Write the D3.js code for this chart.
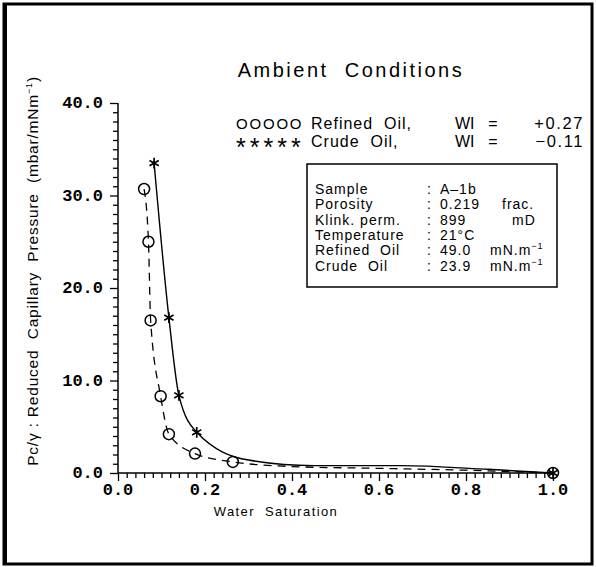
<!DOCTYPE html>
<html>
<head>
<meta charset="utf-8">
<script src="https://d3js.org/d3.v7.min.js"></script>
<style>
  body { margin: 0; background: #fff; }
  svg text { fill: #000; white-space: pre; }
  .tick-lbl { font: bold 17px "Liberation Mono", monospace; }
  .sans { font-family: "Liberation Sans", Arial, sans-serif; }
</style>
</head>
<body>
<svg id="chart" width="596" height="567"></svg>
<script>
// refined oil (circles, dashed line)
const refinedSw = [0.060, 0.070, 0.075, 0.098, 0.117, 0.177, 0.264, 0.40, 0.60, 0.80, 1.0];
const refinedPc = [30.7, 25.0, 16.5, 8.3, 4.2, 2.1, 1.2, 0.7, 0.5, 0.3, 0.0];
// crude oil (stars, solid line)
const crudeSw = [0.083, 0.117, 0.140, 0.181, 0.30, 0.45, 0.65, 0.85, 1.0];
const crudePc = [33.5, 16.8, 8.4, 4.4, 1.4, 0.8, 0.8, 0.4, 0.0];

const xTicks = [0.0, 0.2, 0.4, 0.6, 0.8, 1.0];
const yTicks = [0, 10, 20, 30, 40];

const infoRows = [
  ["Sample", "A\u20131b", ""],
  ["Porosity", "0.219", "frac."],
  ["Klink. perm.", "899", "mD"],
  ["Temperature", "21\u00B0C", ""],
  ["Refined  Oil", "49.0", "mN.m"],
  ["Crude  Oil", "23.9", "mN.m"]
];

const svg = d3.select("#chart");

// outer frame
svg.append("rect").attr("x", 4).attr("y", 4).attr("width", 588).attr("height", 560)
  .attr("fill", "none").attr("stroke", "#000").attr("stroke-width", 3);
svg.append("line").attr("x1", 6).attr("x2", 6).attr("y1", 4).attr("y2", 564)
  .attr("stroke", "#000").attr("stroke-width", 2);

const x = d3.scaleLinear().domain([0, 1]).range([118, 553]);
const y = d3.scaleLinear().domain([0, 40]).range([473, 103]);

// x axis: minor ticks every 0.02, hanging below
const xAx = svg.append("g").attr("transform", `translate(0,${y(0)})`)
  .call(d3.axisBottom(x).tickValues(d3.range(0, 1.0001, 0.02)).tickSize(5).tickFormat(""));
xAx.select(".domain").attr("stroke-width", 1.5).attr("d", `M${x(0)},0H${x(1)}`);
xAx.selectAll(".tick line").attr("stroke-width", 1.3)
  .attr("y2", d => Math.abs(d * 5 - Math.round(d * 5)) < 1e-6 ? 8 : 5);

svg.append("g").selectAll("text").data(xTicks).join("text")
  .attr("class", "tick-lbl").attr("text-anchor", "middle")
  .attr("x", d => x(d)).attr("y", y(0) + 22).text(d => d.toFixed(1));

// y axis: minor ticks every 1, to the left
const yAx = svg.append("g").attr("transform", `translate(${x(0)},0)`)
  .call(d3.axisLeft(y).tickValues(d3.range(0, 40.001, 1)).tickSize(5).tickFormat(""));
yAx.select(".domain").attr("stroke-width", 1.5).attr("d", `M0,${y(0)}V${y(40)}`);
yAx.selectAll(".tick line").attr("stroke-width", 1.3)
  .attr("x2", d => d % 10 === 0 ? -8 : -5);

svg.append("g").selectAll("text").data(yTicks).join("text")
  .attr("class", "tick-lbl").attr("text-anchor", "end")
  .attr("x", x(0) - 15).attr("y", d => y(d) + 5).text(d => d.toFixed(1));

// axis titles
svg.append("text").attr("class", "sans").attr("font-size", 13)
  .attr("letter-spacing", 1.4)
  .attr("x", 276).attr("y", 516).attr("text-anchor", "middle").text("Water  Saturation");

const yl = svg.append("text").attr("class", "sans").attr("font-size", 15.5)
  .attr("letter-spacing", 0.8).attr("text-anchor", "middle")
  .attr("transform", "translate(38,271) rotate(-90)");
yl.append("tspan").text("Pc/\u03B3 : Reduced  Capillary  Pressure  (mbar/mNm");
yl.append("tspan").attr("font-size", 9).attr("dy", -6).text("\u22121");
yl.append("tspan").attr("dy", 6).text(")");

// title
svg.append("text").attr("class", "sans").attr("font-size", 20)
  .attr("x", 351).attr("y", 77).attr("text-anchor", "middle")
  .attr("letter-spacing", 2.5).text("Ambient  Conditions");

// legend
const legendSym = ["OOOOO", "*****"];
const legendName = ["Refined  Oil,", "Crude  Oil,"];
const legendWI = ["+0.27", "\u22120.11"];
legendName.forEach((name, i) => {
  const ly = 129 + i * 18;
  svg.append("text").attr("class", "sans").attr("font-size", i ? 25 : 15)
    .attr("x", 236).attr("y", ly + (i ? 9 : 0)).attr("letter-spacing", i ? 4 : 1.8)
    .text(legendSym[i]);
  svg.append("text").attr("class", "sans").attr("font-size", 16)
    .attr("letter-spacing", 1).attr("x", 311).attr("y", ly).text(name);
  svg.append("text").attr("class", "sans").attr("font-size", 16)
    .attr("x", 455).attr("y", ly).text("WI");
  svg.append("text").attr("class", "sans").attr("font-size", 16)
    .attr("x", 493).attr("y", ly).attr("text-anchor", "middle").text("=");
  svg.append("text").attr("class", "sans").attr("font-size", 16.5).attr("letter-spacing", 1.6)
    .attr("x", 584).attr("y", ly).attr("text-anchor", "end").text(legendWI[i]);
});

// info box
svg.append("rect").attr("x", 307).attr("y", 164).attr("width", 250).attr("height", 123)
  .attr("fill", "none").attr("stroke", "#000").attr("stroke-width", 1.5);
const info = svg.append("g").attr("class", "sans").attr("font-size", 14).attr("letter-spacing", 1);
infoRows.forEach((r, i) => {
  const ty = 194 + i * 15.3;
  info.append("text").attr("x", 315).attr("y", ty).text(r[0]);
  info.append("text").attr("x", 427).attr("y", ty).text(":");
  info.append("text").attr("x", 440).attr("y", ty).text(r[1]);
  if (r[2]) {
    const ux = r[2] === "mD" ? 512 : (r[2] === "frac." ? 502 : 490);
    const t = info.append("text").attr("x", ux).attr("y", ty).text(r[2]);
    if (r[2] === "mN.m") t.append("tspan").attr("font-size", 9).attr("dy", -6).text("\u22121");
  }
});

// curves
const refined = refinedSw.map((s, i) => [s, refinedPc[i]]);
const crude = crudeSw.map((s, i) => [s, crudePc[i]]);
const line = d3.line().x(d => x(d[0])).y(d => y(d[1])).curve(d3.curveMonotoneX);

svg.append("path").datum(refined).attr("d", line).attr("fill", "none")
  .attr("stroke", "#000").attr("stroke-width", 1.3).attr("stroke-dasharray", "8,6");
svg.append("path").datum(crude).attr("d", line).attr("fill", "none")
  .attr("stroke", "#000").attr("stroke-width", 1.4);

// markers: circles on the measured refined points
const refinedMarks = refined.filter(d => d[0] < 0.3 || d[0] === 1);
svg.append("g").selectAll("circle").data(refinedMarks).join("circle")
  .attr("cx", d => x(d[0])).attr("cy", d => y(d[1])).attr("r", 5.5)
  .attr("fill", "none").attr("stroke", "#000").attr("stroke-width", 1.5);

const crudeMarks = crude.filter(d => d[0] < 0.2 || d[0] === 1);
const star = d3.symbol().type(d3.symbolAsterisk).size(80);
svg.append("g").selectAll("path").data(crudeMarks).join("path")
  .attr("transform", d => `translate(${x(d[0])},${y(d[1])})`)
  .attr("d", star).attr("fill", "none").attr("stroke", "#000").attr("stroke-width", 1.7);
</script>
</body>
</html>
